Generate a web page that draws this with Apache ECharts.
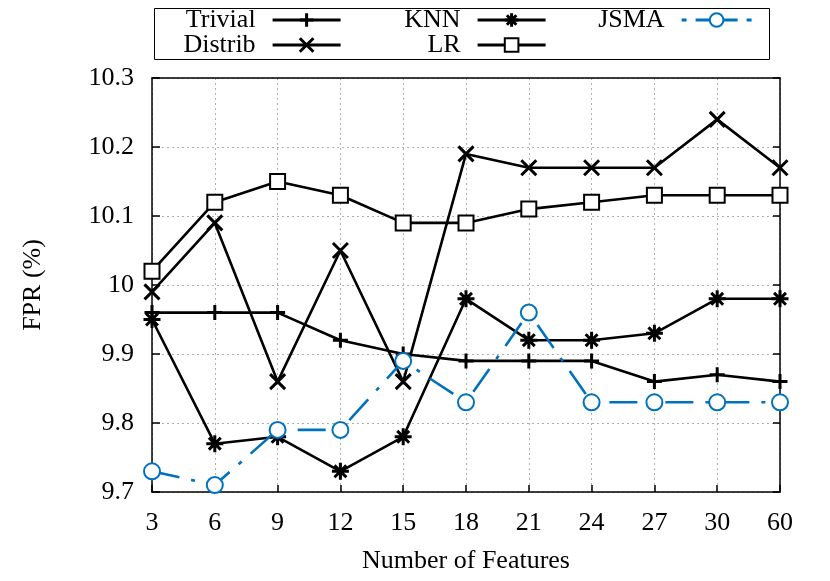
<!DOCTYPE html>
<html>
<head>
<meta charset="utf-8">
<script src="https://cdn.jsdelivr.net/npm/echarts@6/dist/echarts.min.js"></script>
<style>html,body{margin:0;padding:0;background:#fff}#c{width:830px;height:581px}</style>
</head>
<body>
<div id="c"></div>
<script>
const categories = ['3','6','9','12','15','18','21','24','27','30','60'];
const trivial = [9.96, 9.96, 9.96, 9.92, 9.90, 9.89, 9.89, 9.89, 9.86, 9.87, 9.86];
const distrib = [9.99, 10.09, 9.86, 10.05, 9.86, 10.19, 10.17, 10.17, 10.17, 10.24, 10.17];
const knn = [9.95, 9.77, 9.78, 9.73, 9.78, 9.98, 9.92, 9.92, 9.93, 9.98, 9.98];
const lr = [10.02, 10.12, 10.15, 10.13, 10.09, 10.09, 10.11, 10.12, 10.13, 10.13, 10.13];
const jsma = [9.73, 9.71, 9.79, 9.79, 9.89, 9.83, 9.96, 9.83, 9.83, 9.83, 9.83];

const FONT = '"Liberation Serif", "DejaVu Serif", serif';
const BLUE = '#0072bd';
const PLUS = 'path://M5,0L5,10M0,5L10,5';
const CROSS = 'path://M0,0L10,10M0,10L10,0';
const STAR = 'path://M5,0L5,10M0,5L10,5M1.5,1.5L8.5,8.5M1.5,8.5L8.5,1.5';

function blackSeries(name, data, symbol, size, empty) {
  return {
    name, type: 'line', data, symbol, symbolSize: size,
    lineStyle: { color: '#000', width: 2.6 },
    itemStyle: { color: empty ? '#000' : 'none', borderColor: '#000', borderWidth: 3 },
    emphasis: { disabled: true },
    z: 3
  };
}

function legendItem(name, right, top, width, lineType) {
  return {
    data: [name], right, top, orient: 'horizontal', align: 'right',
    itemWidth: width, itemHeight: 17, padding: 0, selectedMode: false,
    lineStyle: lineType ? { width: 2.8, type: lineType } : { width: 2.8 },
    itemStyle: { borderWidth: 3 },
    textStyle: { fontFamily: FONT, fontSize: 26, color: '#000', lineHeight: 26, padding: [0, 12, 0, 0] }
  };
}

const chart = echarts.init(document.getElementById('c'), null, { renderer: 'canvas' });
chart.setOption({
  animation: false,
  backgroundColor: '#fff',
  grid: { left: 152, right: 50, top: 78, bottom: 89, containLabel: false },
  graphic: [{
    type: 'rect', left: 152, top: 6, silent: true,
    shape: { width: 615, height: 51 },
    style: { fill: 'none', stroke: '#000', lineWidth: 1 }
  }],
  legend: [
    legendItem('Trivial', 830 - 342, 7, 68),
    legendItem('Distrib', 830 - 342, 32, 68),
    legendItem('KNN', 830 - 547, 7, 68),
    legendItem('LR', 830 - 547, 32, 68),
    legendItem('JSMA', 830 - 753, 7, 70, [5, 9, 42, 9, 5, 100])
  ],
  xAxis: [{
    type: 'category', data: categories, boundaryGap: false,
    name: 'Number of Features', nameLocation: 'middle', nameGap: 56,
    nameTextStyle: { fontFamily: FONT, fontSize: 26, color: '#000' },
    axisLine: { lineStyle: { color: '#000', width: 1.5 } },
    axisTick: { inside: true, length: 7, alignWithLabel: true, lineStyle: { color: '#000', width: 1.5 } },
    axisLabel: { fontFamily: FONT, fontSize: 26, color: '#000', margin: 18 },
    splitLine: { show: true, lineStyle: { color: '#b0b0b0', type: [2, 3], width: 1 } }
  }, {
    type: 'category', data: categories, boundaryGap: false, position: 'top',
    axisLine: { lineStyle: { color: '#000', width: 1.5 } },
    axisTick: { show: false }, axisLabel: { show: false }, splitLine: { show: false }
  }],
  yAxis: [{
    type: 'value', min: 9.7, max: 10.3, interval: 0.1,
    name: 'FPR (%)', nameLocation: 'middle', nameGap: 106,
    nameTextStyle: { fontFamily: FONT, fontSize: 26, color: '#000' },
    axisLine: { show: true, lineStyle: { color: '#000', width: 1.5 } },
    axisTick: { show: true, inside: true, length: 8, lineStyle: { color: '#000', width: 1.5 } },
    axisLabel: { fontFamily: FONT, fontSize: 26, color: '#000', margin: 18 },
    splitLine: { show: true, lineStyle: { color: '#b0b0b0', type: [2, 3], width: 1 } }
  }, {
    type: 'value', min: 9.7, max: 10.3, interval: 0.1, position: 'right',
    axisLine: { show: true, lineStyle: { color: '#000', width: 1.5 } },
    axisTick: { show: true, inside: true, length: 7, lineStyle: { color: '#000', width: 1.5 } },
    axisLabel: { show: false }, splitLine: { show: false }
  }],
  series: [
    blackSeries('Trivial', trivial, PLUS, 15, false),
    blackSeries('Distrib', distrib, CROSS, 15, false),
    blackSeries('KNN', knn, STAR, 17, false),
    Object.assign(blackSeries('LR', lr, 'emptyRect', 15, true), {
      itemStyle: { color: '#000', borderColor: '#000', borderWidth: 3 }
    }),
    {
      name: 'JSMA', type: 'line', data: jsma, symbol: 'emptyCircle', symbolSize: 16,
      lineStyle: { color: BLUE, width: 2.6, type: [28, 12, 4, 12], dashOffset: 0 },
      itemStyle: { color: BLUE, borderColor: BLUE, borderWidth: 3 },
      emphasis: { disabled: true },
      z: 4
    }
  ]
});
</script>
</body>
</html>
